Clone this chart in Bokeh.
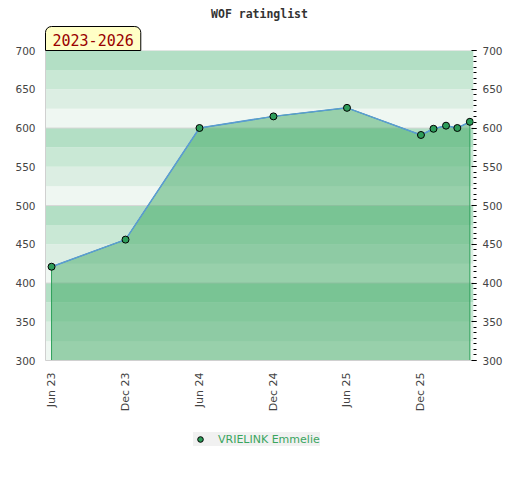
import pandas as pd
from bokeh.plotting import figure
from bokeh.layouts import column
from bokeh.models import (Range1d, LinearAxis, SingleIntervalTicker, FixedTicker, Title,
                          DatetimeTickFormatter, BoxAnnotation, Span, Legend, LegendItem)
from bokeh.embed import file_html
from bokeh.resources import INLINE
from math import pi

# ---- data ----
dates = ["2023-06-01", "2023-12-01", "2024-06-01", "2024-12-01", "2025-06-01",
         "2025-12-01", "2026-01-01", "2026-02-01", "2026-03-01", "2026-04-01"]
ratings = [421, 456, 600, 615, 626, 591, 599, 603, 600, 608]
tick_dates = ["2023-06-01", "2023-12-01", "2024-06-01", "2024-12-01", "2025-06-01", "2025-12-01"]
player = "VRIELINK Emmelie"
title_text = "WOF ratinglist"
period_text = "2023-2026"
x_start_date, x_end_date = "2023-05-17", "2026-04-10"
y_min, y_max = 300, 700


def ms(s):
    return pd.Timestamp(s).value // 10**6


xs = [ms(d) for d in dates]
ticks = [ms(d) for d in tick_dates]
x0, x1 = ms(x_start_date), ms(x_end_date)

p = figure(width=520, height=420, x_axis_type="datetime",
           x_range=Range1d(x0, x1), y_range=Range1d(y_min, y_max),
           output_backend="svg", toolbar_location=None,
           min_border_left=45, min_border_right=47, min_border_top=50, min_border_bottom=60)
p.outline_line_color = None
p.background_fill_color = "white"
p.grid.visible = False

# background bands
band_colors = ["#eff7f2", "#dceee3", "#c9e8d5", "#b3dfc5"]
for i, lo in enumerate(range(y_min, y_max, 25)):
    p.add_layout(BoxAnnotation(bottom=lo, top=lo + 25, fill_color=band_colors[i % 4],
                               fill_alpha=1, line_color=None, level="image"))
for yv in range(y_min, y_max + 1, 100):
    p.add_layout(Span(location=yv, dimension="width", line_color="#d8d8d8",
                      line_width=1, level="underlay"))

# area
area_x = xs + [xs[-1], xs[0]]
area_y = ratings + [y_min, y_min]
p.patch(area_x, area_y, fill_color="#3ea761", fill_alpha=0.49,
        line_color="#2ea05a", line_width=1)
p.line(xs, ratings, line_color="#5b9bd5", line_width=1.5)
p.scatter(xs, ratings, size=7, fill_color="#2e9d5a", line_color="black", line_width=1)

# axes
xa = p.xaxis[0]
xa.ticker = FixedTicker(ticks=ticks)
xa.formatter = DatetimeTickFormatter(days="%b %y", months="%b %y", years="%b %y")
xa.major_label_orientation = pi / 2
xa.major_tick_out = 0
xa.major_tick_in = 0
xa.minor_tick_out = 0
xa.major_tick_line_color = None
xa.minor_tick_line_color = None
xa.axis_line_color = "#d0d0d0"
xa.major_label_text_font = "DejaVu Sans"
xa.major_label_text_font_size = "11px"
xa.major_label_text_color = "#444444"
xa.major_label_standoff = 12

ya = p.yaxis[0]
ya.ticker = SingleIntervalTicker(interval=50, num_minor_ticks=0)
ya.major_tick_out = 0
ya.major_tick_in = 0
ya.minor_tick_out = 0
ya.major_tick_line_color = None
ya.minor_tick_line_color = None
ya.axis_line_color = "#d0d0d0"
ya.major_label_text_font = "DejaVu Sans"
ya.major_label_text_font_size = "10.5px"
ya.major_label_text_color = "#444444"
ya.major_label_standoff = 10

ra = LinearAxis(ticker=SingleIntervalTicker(interval=50, num_minor_ticks=7))
ra.axis_line_color = None
ra.major_tick_in = 2
ra.major_tick_out = 3
ra.minor_tick_in = 0
ra.minor_tick_out = 3
ra.major_tick_line_color = "black"
ra.minor_tick_line_color = "black"
ra.major_label_text_font = "DejaVu Sans"
ra.major_label_text_font_size = "10.5px"
ra.major_label_text_color = "#444444"
ra.major_label_standoff = 6
p.add_layout(ra, "right")

# period box (nearest the frame) and title above it
period = Title(text=period_text, align="left", offset=0, standoff=0,
               text_font="DejaVu Sans Mono", text_font_size="15px", text_font_style="normal",
               text_color="#990000", background_fill_color="#ffffc6", border_line_color="black",
               padding=dict(left=7, right=7, top=7, bottom=5),
               border_radius=dict(top_left=6, top_right=6, bottom_right=0, bottom_left=0))
p.add_layout(period, "above")
p.add_layout(Title(text=title_text, align="center", standoff=8,
                   text_font="DejaVu Sans Mono", text_font_style="bold",
                   text_font_size="11.5px", text_color="#333333"), "above")

# legend strip below the chart (frames are aligned with the chart above)
lf = figure(width=520, height=60, x_range=Range1d(0, 1), y_range=Range1d(0, 1),
            output_backend="svg", toolbar_location=None, min_border=0,
            x_axis_location=None, y_axis_location=None)
lf.outline_line_color = None
lf.grid.visible = False
lpts = lf.scatter(xs, ratings, size=7, fill_color="#2e9d5a", line_color="black", line_width=1)
legend = Legend(items=[LegendItem(label=player, renderers=[lpts])], location=(148, 34),
                background_fill_color="#f0f0f0", border_line_color=None,
                label_text_color="#3aa55e", label_text_font="DejaVu Sans",
                label_text_font_size="11px", padding=5, margin=0, glyph_width=14,
                glyph_height=14, label_standoff=11, label_height=14)
lf.add_layout(legend, "center")

open("out.html", "w").write(file_html(column(p, lf, spacing=0), INLINE))
